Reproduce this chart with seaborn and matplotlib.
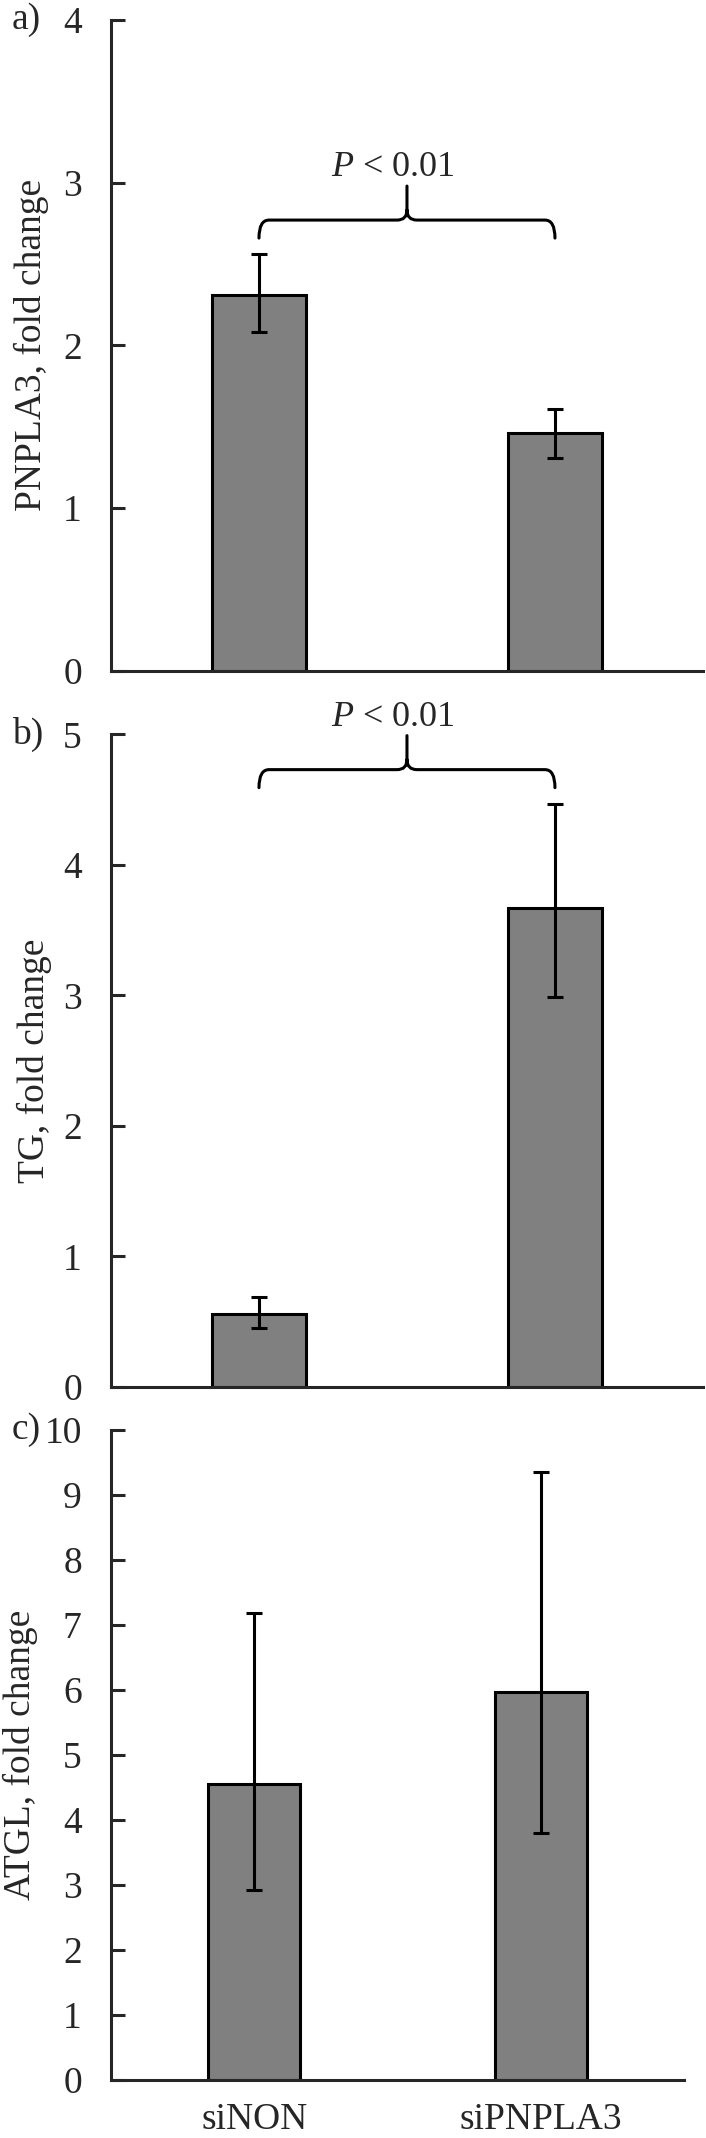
import matplotlib
matplotlib.use("Agg")
import matplotlib.pyplot as plt
from matplotlib.path import Path
from matplotlib.patches import PathPatch
import seaborn as sns

# group labels
categories = ["siNON", "siPNPLA3"]

# a) PNPLA3 fold change, mean and error bar ends
pnpla3_mean = [2.31, 1.46]
pnpla3_lo = [2.08, 1.31]
pnpla3_hi = [2.56, 1.61]

# b) TG fold change
tg_mean = [0.56, 3.67]
tg_lo = [0.45, 2.99]
tg_hi = [0.69, 4.47]

# c) ATGL fold change
atgl_mean = [4.56, 5.97]
atgl_lo = [2.92, 3.80]
atgl_hi = [7.18, 9.36]

ylabels = ["PNPLA3, fold change", "TG, fold change", "ATGL, fold change"]
panel_tags = ["a)", "b)", "c)"]
y_max = [4, 5, 10]
p_text = r"$P$ < 0.01"

BAR_GRAY = "#808080"
LW = 2.2
TICK_FS = 27
LABEL_FS = 27
P_FS = 26


def draw_brace(ax, x0, x1, y, hook=18, tip=34, r=10):
    # build the brace in pixels, then map back to data coords
    to_px = ax.transData
    to_data = ax.transData.inverted()
    (xl, yb), (xr, _) = to_px.transform([(x0, y), (x1, y)])
    xm = (xl + xr) / 2
    pts = [
        (xl, yb - hook), (xl, yb), (xl + r, yb),
        (xm - r, yb), (xm, yb), (xm, yb + r),
        (xm, yb + tip),
        (xm, yb + r), (xm, yb), (xm + r, yb),
        (xr - r, yb), (xr, yb), (xr, yb - hook),
    ]
    codes = [
        Path.MOVETO, Path.CURVE3, Path.CURVE3,
        Path.LINETO, Path.CURVE3, Path.CURVE3,
        Path.LINETO,
        Path.MOVETO, Path.CURVE3, Path.CURVE3,
        Path.LINETO, Path.CURVE3, Path.CURVE3,
    ]
    verts = to_data.transform(pts)
    ax.add_patch(PathPatch(Path(verts, codes), fill=False, lw=LW,
                           edgecolor="black", capstyle="round"))
    tx, ty = to_data.transform([(xm - 14, yb + tip + 2)])[0]
    ax.text(tx, ty, p_text, ha="center", va="bottom", fontsize=P_FS)


def bar_panel(ax, means, lo, hi, ymax, ylabel, show_x, label_x):
    sns.barplot(x=categories, y=means, ax=ax, color=BAR_GRAY, width=0.32,
                edgecolor="black", linewidth=LW, saturation=1, errorbar=None)
    yerr = [[m - l for m, l in zip(means, lo)],
            [h - m for m, h in zip(means, hi)]]
    ax.errorbar(range(len(means)), means, yerr=yerr, fmt="none",
                ecolor="black", elinewidth=LW, capsize=6, capthick=LW)
    ax.set_xlim(-0.5, 1.5)
    ax.set_ylim(0, ymax)
    ax.set_yticks(range(0, ymax + 1))
    sns.despine(ax=ax)
    for side in ["left", "bottom"]:
        ax.spines[side].set_linewidth(LW)
    ax.tick_params(axis="y", direction="in", length=10, width=LW, pad=21,
                   labelsize=TICK_FS)
    ax.tick_params(axis="x", length=0, pad=16, labelsize=TICK_FS,
                   labelbottom=show_x)
    ax.set_ylabel(ylabel, fontsize=LABEL_FS)
    ax.yaxis.set_label_coords(label_x, 0.5)
    ax.set_xlabel("")


def main():
    sns.set_style("ticks")
    plt.rcParams["font.family"] = ["Liberation Serif", "DejaVu Serif"]
    plt.rcParams["mathtext.fontset"] = "custom"
    plt.rcParams["mathtext.it"] = "Liberation Serif:italic"
    plt.rcParams["mathtext.rm"] = "Liberation Serif"

    fig = plt.figure(figsize=(7.06, 21.38), dpi=100)
    ax_a = fig.add_axes([0.1572, 0.6862, 0.8385, 0.3045])
    ax_b = fig.add_axes([0.1572, 0.3513, 0.8385, 0.3052])
    ax_c = fig.add_axes([0.1572, 0.0271, 0.8116, 0.3040])
    axes = [ax_a, ax_b, ax_c]

    bar_panel(ax_a, pnpla3_mean, pnpla3_lo, pnpla3_hi, y_max[0], ylabels[0],
              False, -0.104)
    bar_panel(ax_b, tg_mean, tg_lo, tg_hi, y_max[1], ylabels[1],
              False, -0.100)
    bar_panel(ax_c, atgl_mean, atgl_lo, atgl_hi, y_max[2], ylabels[2],
              True, -0.128)

    draw_brace(ax_a, 0, 1, 2.77)
    draw_brace(ax_b, 0, 1, 4.73)

    # panel tags sit level with the top tick of each axis
    for ax, tag in zip(axes, panel_tags):
        top = ax.get_position().y1
        fig.text(12 / 706, top, tag, fontsize=TICK_FS, va="center")

    fig.savefig("out.png", dpi=100)


if __name__ == "__main__":
    main()
